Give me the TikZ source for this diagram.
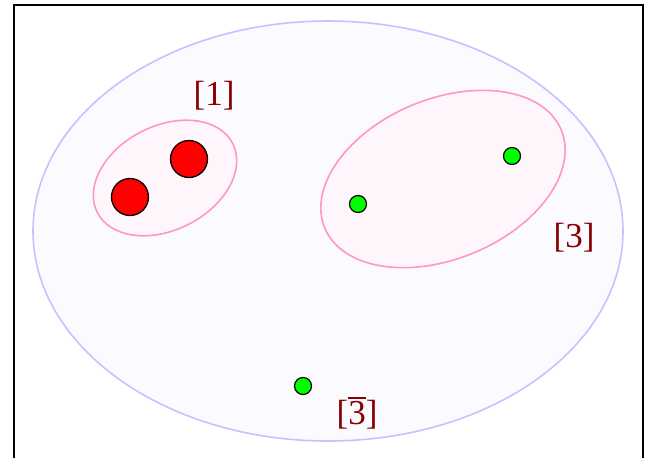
\documentclass[tikz,border=0pt]{standalone}
\usepackage{fontspec}
\setmainfont{Liberation Serif}
\definecolor{bigfill}{RGB}{251,251,255}
\definecolor{bigline}{RGB}{195,195,255}
\definecolor{pinkline}{RGB}{255,150,200}
\definecolor{pinkfill}{RGB}{254,246,251}
\definecolor{labred}{RGB}{136,0,0}
\tikzset{
  bigell/.style={draw=bigline, fill=bigfill, line width=1.6pt},
  pinkell/.style={draw=pinkline, fill=pinkfill, line width=1.6pt},
  redball/.style={circle, draw=black, fill=red, line width=1.3pt, minimum size=37pt, inner sep=0pt},
  greenball/.style={circle, draw=black, fill=green, line width=1.2pt, minimum size=17pt, inner sep=0pt},
  lab/.style={text=labred, font=\fontsize{35}{38}\selectfont, inner sep=0pt}
}
\begin{document}
\begin{tikzpicture}[x=1pt,y=-1pt]
\useasboundingbox (0,0) rectangle (654,458);
\fill[white] (0,0) rectangle (654,458);
\draw[line width=2pt] (14,470) -- (14,4.5) -- (642.5,4.5) -- (642.5,470);
\draw[bigell] (328,231) ellipse [x radius=295, y radius=210];
\draw[pinkell] (165,178) ellipse [x radius=76, y radius=52, rotate=27];
\draw[pinkell] (443,179) ellipse [x radius=128, y radius=80, rotate=22.5];
\node[redball] (r1) at (130,197) {};
\node[redball] (r2) at (189,159) {};
\node[greenball] (g1) at (358,204) {};
\node[greenball] (g2) at (512,156) {};
\node[greenball] (g3) at (303,386) {};
\node[lab] (l1) at (214,96) {[1]};
\node[lab] (l3) at (574,238) {[3]};
\node[lab] (l3b) at (357,413) {[\rlap{\raisebox{0.72em}{\rule{0.5em}{0.045em}}}3]};
\end{tikzpicture}
\end{document}
